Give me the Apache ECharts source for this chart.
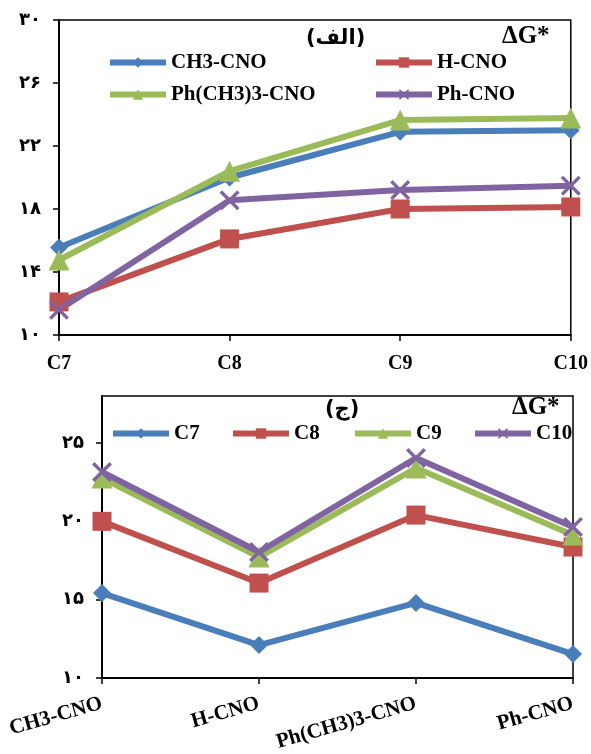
<!DOCTYPE html>
<html>
<head>
<meta charset="utf-8">
<script src="https://cdn.jsdelivr.net/npm/echarts@6/dist/echarts.min.js"></script>
<style>
html,body{margin:0;padding:0;background:#fff;}
#main{width:591px;height:754px;}
</style>
</head>
<body>
<div id="main"></div>
<script>
// ---- Data: top panel (الف) ----
const topCategories = ['C7', 'C8', 'C9', 'C10'];
const topCH3 = [15.55, 20.0, 22.9, 23.0];
const topH = [12.1, 16.1, 18.0, 18.13];
const topPhCH3 = [14.76, 20.4, 23.65, 23.78];
const topPh = [11.6, 18.55, 19.2, 19.48];
const topYTicks = [10, 14, 18, 22, 26, 30];

// ---- Data: bottom panel (ج) ----
const bottomCategories = ['CH3-CNO', 'H-CNO', 'Ph(CH3)3-CNO', 'Ph-CNO'];
const bottomC7 = [15.42, 12.1, 14.79, 11.53];
const bottomC8 = [20.0, 16.06, 20.4, 18.36];
const bottomC9 = [22.76, 17.72, 23.4, 19.13];
const bottomC10 = [23.15, 18.04, 24.04, 19.64];
const bottomYTicks = [10, 15, 20, 25];

const topSeriesNames = ['CH3-CNO', 'H-CNO', 'Ph(CH3)3-CNO', 'Ph-CNO'];
const bottomSeriesNames = ['C7', 'C8', 'C9', 'C10'];

const COLORS = ['#4A7EBB', '#C0504D', '#9BBB59', '#8064A2'];
const X_PATH = 'path://M0,1.2L1.2,0L5,3.8L8.8,0L10,1.2L6.2,5L10,8.8L8.8,10L5,6.2L1.2,10L0,8.8L3.8,5Z';
const SYMBOLS = ['diamond', 'rect', 'triangle', X_PATH];
const SIZES = [18, 19, 21, 20];
const FONT = '"Liberation Serif", "DejaVu Serif", "DejaVu Sans", serif';

function fa(v) {
  return String(v).replace(/\d/g, d => '۰۱۲۳۴۵۶۷۸۹'[d]);
}

function mkSeries(name, data, i, axisIdx) {
  return {
    type: 'line', name: name, data: data,
    xAxisIndex: axisIdx, yAxisIndex: axisIdx,
    symbol: SYMBOLS[i], symbolSize: SIZES[i],
    clip: false,
    lineStyle: { color: COLORS[i], width: 6 },
    itemStyle: { color: COLORS[i] },
    emphasis: { disabled: true },
    animation: false
  };
}

function mkLegend(name, left, top) {
  return {
    data: [name], left: left, top: top, padding: 0,
    itemWidth: 56, itemHeight: 13,
    lineStyle: { width: 6 },
    textStyle: { fontFamily: FONT, fontWeight: 'bold', fontSize: 21, color: '#000' },
    selectedMode: false
  };
}

const axisLineStyle = { lineStyle: { color: '#000', width: 2 } };
const tickStyle = { show: true, length: 6, inside: false, lineStyle: { color: '#000', width: 1.5 } };

const option = {
  backgroundColor: '#fff',
  animation: false,
  grid: [
    { left: 59, top: 20, width: 516, height: 315, show: true, borderColor: '#000', borderWidth: 1.5, containLabel: false },
    { left: 102, top: 396, width: 471, height: 282, show: true, borderColor: '#000', borderWidth: 1.5, containLabel: false }
  ],
  xAxis: [
    {
      type: 'category', gridIndex: 0, data: topCategories, boundaryGap: false,
      axisLine: axisLineStyle, axisTick: Object.assign({ alignWithLabel: true }, tickStyle),
      axisLabel: { fontFamily: FONT, fontWeight: 'bold', fontSize: 20, color: '#000', margin: 19 }
    },
    {
      type: 'category', gridIndex: 1, data: bottomCategories, boundaryGap: false,
      axisLine: axisLineStyle, axisTick: Object.assign({ alignWithLabel: true }, tickStyle),
      axisLabel: { fontFamily: FONT, fontWeight: 'bold', fontSize: 21, color: '#000', margin: 25, rotate: 16, interval: 0 }
    }
  ],
  yAxis: [
    {
      type: 'value', gridIndex: 0, min: topYTicks[0], max: topYTicks[topYTicks.length - 1], interval: 4,
      splitLine: { show: false },
      axisLine: Object.assign({ show: true }, axisLineStyle), axisTick: tickStyle,
      axisLabel: { fontFamily: FONT, fontWeight: 'bold', fontSize: 18, color: '#000', margin: 18, formatter: fa }
    },
    {
      type: 'value', gridIndex: 1, min: 10, max: 28,
      splitLine: { show: false },
      axisLine: Object.assign({ show: true }, axisLineStyle),
      axisTick: Object.assign({ customValues: bottomYTicks }, tickStyle),
      axisLabel: { fontFamily: FONT, fontWeight: 'bold', fontSize: 18, color: '#000', margin: 18, formatter: fa, customValues: bottomYTicks }
    }
  ],
  legend: [
    mkLegend(topSeriesNames[0], 107, 52),
    mkLegend(topSeriesNames[1], 373, 52),
    mkLegend(topSeriesNames[2], 107, 84),
    mkLegend(topSeriesNames[3], 373, 84),
    mkLegend(bottomSeriesNames[0], 110, 423),
    mkLegend(bottomSeriesNames[1], 230, 423),
    mkLegend(bottomSeriesNames[2], 352, 423),
    mkLegend(bottomSeriesNames[3], 472, 423)
  ],
  graphic: [
    { type: 'text', left: 306, top: 28, style: { text: '(الف)', font: 'bold 21px "DejaVu Sans", "Noto Sans", sans-serif', fill: '#000' } },
    { type: 'text', left: 502, top: 24, style: { text: 'ΔG*', font: 'bold 25px ' + FONT, fill: '#000' } },
    { type: 'text', left: 325, top: 399, style: { text: '(ج)', font: 'bold 21px "DejaVu Sans", "Noto Sans", sans-serif', fill: '#000' } },
    { type: 'text', left: 512, top: 395, style: { text: 'ΔG*', font: 'bold 25px ' + FONT, fill: '#000' } }
  ],
  series: [
    mkSeries(topSeriesNames[0], topCH3, 0, 0),
    mkSeries(topSeriesNames[1], topH, 1, 0),
    mkSeries(topSeriesNames[2], topPhCH3, 2, 0),
    mkSeries(topSeriesNames[3], topPh, 3, 0),
    mkSeries(bottomSeriesNames[0], bottomC7, 0, 1),
    mkSeries(bottomSeriesNames[1], bottomC8, 1, 1),
    mkSeries(bottomSeriesNames[2], bottomC9, 2, 1),
    mkSeries(bottomSeriesNames[3], bottomC10, 3, 1)
  ]
};

const chart = echarts.init(document.getElementById('main'), null, { renderer: 'canvas' });
chart.setOption(option);
</script>
</body>
</html>
